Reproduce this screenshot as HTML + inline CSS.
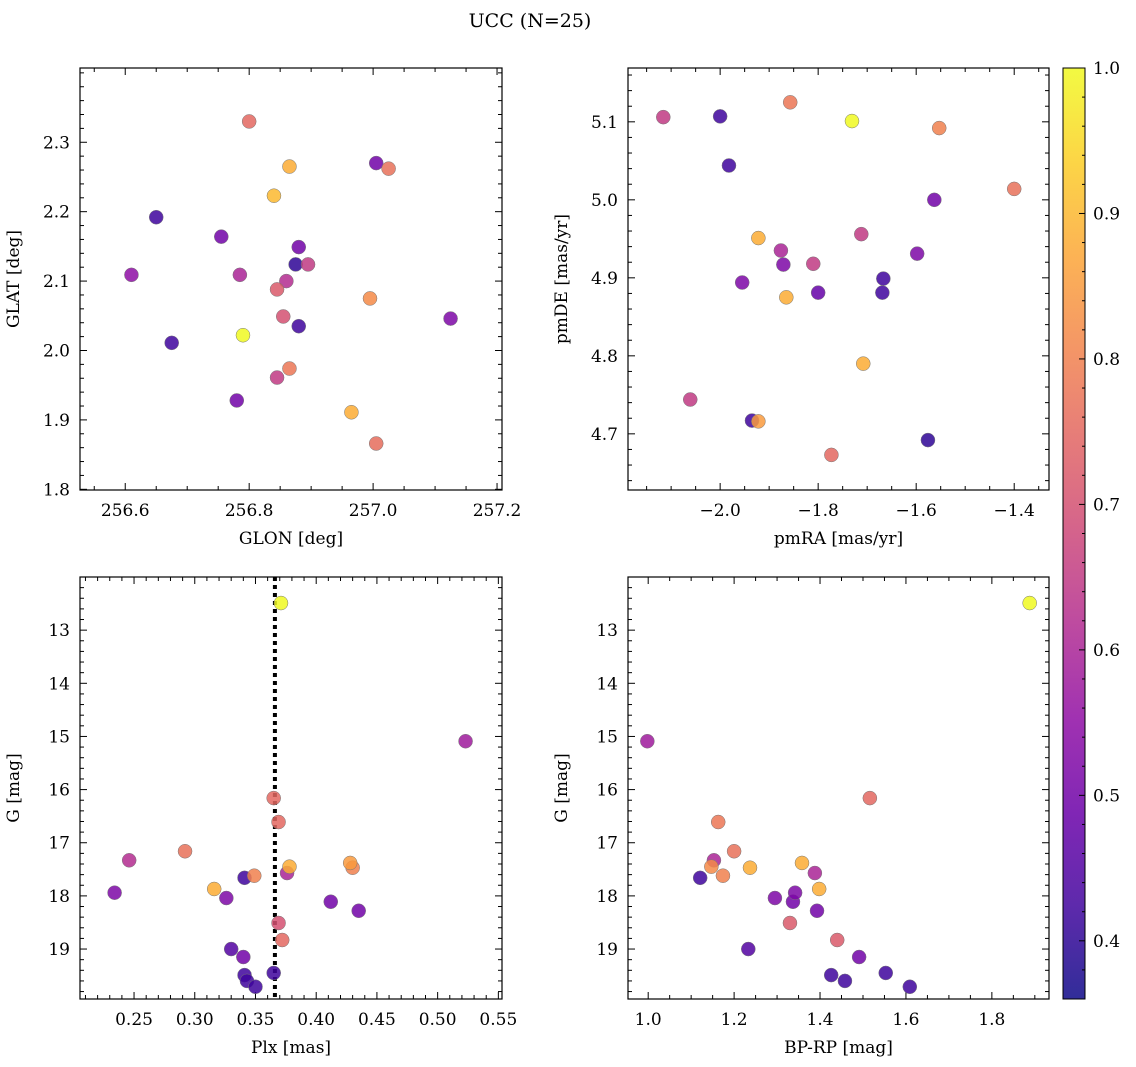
<!DOCTYPE html>
<html><head><meta charset="utf-8"><style>
html,body{margin:0;padding:0;background:#fff;}
svg{display:block;font-family:"DejaVu Serif","Liberation Serif",serif;}
</style></head><body>
<svg id="fig" width="1136" height="1067" viewBox="0 0 1136 1067">
<text x="530" y="27" font-size="19" text-anchor="middle">UCC (N=25)</text>
</svg>
<script>
// ---- data ----
const glon=[256.80,256.865,257.005,257.025,256.84,256.65,256.755,256.88,256.875,256.895,256.61,256.785,256.86,256.845,256.995,256.855,257.125,256.88,256.675,256.79,256.865,256.845,256.78,256.965,257.005];
const glat=[2.33,2.265,2.27,2.262,2.223,2.192,2.164,2.149,2.124,2.124,2.109,2.109,2.1,2.088,2.075,2.049,2.046,2.035,2.011,2.022,1.974,1.961,1.928,1.911,1.866];
const probTL=[0.75,0.88,0.5,0.77,0.9,0.42,0.5,0.5,0.4,0.65,0.55,0.6,0.62,0.72,0.82,0.7,0.52,0.42,0.42,1.0,0.78,0.65,0.5,0.88,0.76];
const pmra=[-2.116,-2.0,-1.982,-1.857,-1.731,-1.553,-1.4,-1.563,-1.922,-1.712,-1.876,-1.871,-1.81,-1.598,-1.667,-1.955,-1.865,-1.8,-1.669,-1.708,-2.061,-1.935,-1.922,-1.576,-1.773];
const pmde=[5.106,5.107,5.044,5.125,5.101,5.092,5.014,5.0,4.951,4.956,4.935,4.917,4.918,4.931,4.899,4.894,4.875,4.881,4.881,4.79,4.744,4.717,4.716,4.692,4.673];
const probTR=[0.65,0.42,0.42,0.78,1.0,0.8,0.77,0.5,0.88,0.65,0.6,0.52,0.65,0.52,0.42,0.52,0.88,0.48,0.42,0.88,0.65,0.42,0.85,0.4,0.75];
const plx=[0.371,0.523,0.365,0.369,0.246,0.292,0.428,0.430,0.378,0.376,0.341,0.349,0.316,0.234,0.326,0.412,0.435,0.369,0.372,0.330,0.340,0.341,0.343,0.365,0.350];
const gmag=[12.49,15.09,16.16,16.61,17.33,17.16,17.38,17.47,17.45,17.57,17.66,17.62,17.87,17.94,18.04,18.11,18.28,18.51,18.83,19.0,19.15,19.49,19.60,19.45,19.71];
const probBL=[1.0,0.58,0.75,0.75,0.62,0.77,0.85,0.8,0.88,0.6,0.42,0.8,0.88,0.52,0.52,0.5,0.5,0.7,0.75,0.45,0.5,0.42,0.42,0.42,0.42];
const bprp=[1.888,0.998,1.516,1.163,1.153,1.2,1.358,1.237,1.388,1.147,1.121,1.174,1.398,1.342,1.295,1.337,1.393,1.33,1.44,1.233,1.491,1.426,1.458,1.553,1.609];
const gmag2=[12.49,15.09,16.16,16.61,17.33,17.16,17.38,17.47,17.57,17.45,17.66,17.62,17.87,17.94,18.04,18.11,18.28,18.51,18.83,19.0,19.15,19.49,19.60,19.45,19.71];
const probBR=[1.0,0.58,0.75,0.78,0.6,0.77,0.88,0.88,0.6,0.82,0.42,0.8,0.88,0.52,0.52,0.5,0.5,0.72,0.72,0.45,0.5,0.42,0.42,0.42,0.42];
const plxMedian=0.366;
const cbTicks=[0.4,0.5,0.6,0.7,0.8,0.9,1.0];
const VMIN=0.36,VMAX=1.0;

const NS="http://www.w3.org/2000/svg";
const svg=document.getElementById('fig');
function mk(tag,attrs,parent){const e=document.createElementNS(NS,tag);for(const k in attrs)e.setAttribute(k,attrs[k]);(parent||svg).appendChild(e);return e;}
const stops=[[13,8,135],[65,4,157],[106,0,168],[143,13,164],[177,42,144],[204,71,120],[225,100,98],[242,132,75],[252,166,54],[252,206,37],[240,249,33]];
function plasma(t){t=Math.max(0,Math.min(1,t));const f=t*10,i=Math.min(9,Math.floor(f)),r=f-i;const a=stops[i],b=stops[i+1];return 'rgb('+a.map((v,k)=>Math.round(v+(b[k]-v)*r)).join(',')+')';}
function cmap(v){return plasma((v-VMIN)/(VMAX-VMIN));}

function panel(name,box,xr,yr,xt,yt,xminor,yminor,xfmt,yfmt,xlabel,ylabel,invertY){
  const [L,T,R,B]=box;
  const sx=v=>L+(v-xr[0])/(xr[1]-xr[0])*(R-L);
  const sy=invertY?(v=>T+(v-yr[0])/(yr[1]-yr[0])*(B-T)):(v=>B-(v-yr[0])/(yr[1]-yr[0])*(B-T));
  const g=mk('g',{});
  
  
  const ticks=mk('g',{stroke:'#000','stroke-width':1},g);
  function eachTick(arr,step,range,cb){for(const v of arr)cb(v,7);if(step){const s=Math.ceil(range[0]/step-1e-6);for(let k=s;k*step<=range[1]+1e-9;k++){const v=k*step;if(!arr.some(a=>Math.abs(a-v)<step/3))cb(v,4);}}}
  eachTick(xt,xminor,xr,(v,l)=>{const x=sx(v);if(x<L-0.5||x>R+0.5)return;mk('line',{x1:x,x2:x,y1:B,y2:B-l},ticks);mk('line',{x1:x,x2:x,y1:T,y2:T+l},ticks);});
  eachTick(yt,yminor,[Math.min(...yr),Math.max(...yr)],(v,l)=>{const y=sy(v);if(y<T-0.5||y>B+0.5)return;mk('line',{x1:L,x2:L+l,y1:y,y2:y},ticks);mk('line',{x1:R,x2:R-l,y1:y,y2:y},ticks);});
  const xl=mk('g',{'font-size':17,'text-anchor':'middle'},g);
  
  xt.forEach(v=>{const t=mk('text',{x:sx(v),y:B+26},xl);t.textContent=xfmt(v);});
  const yl=mk('g',{'font-size':17,'text-anchor':'end'},g);
  
  yt.forEach(v=>{const t=mk('text',{x:L-10,y:sy(v)+6},yl);t.textContent=yfmt(v);});
  const xa=mk('text',{x:(L+R)/2,y:B+54,'font-size':17,'text-anchor':'middle'},g);
  xa.textContent=xlabel;
  const ya=mk('text',{x:0,y:0,'font-size':17,'text-anchor':'middle',transform:`translate(${L-61},${(T+B)/2}) rotate(-90)`},g);
  ya.textContent=ylabel;
  return {g,sx,sy,box};
}
function frame(p){const [L,T,R,B]=p.box;const r=mk('rect',{x:L,y:T,width:R-L,height:B-T,fill:'none',stroke:'#000','stroke-width':1.2},p.g);}
function scatter(p,xs,ys,cs,name){
  const gg=mk('g',{},p.g);
  const idx=xs.map((_,i)=>i).sort((a,b)=>cs[a]-cs[b]);
  idx.forEach(i=>{const c=mk('circle',{cx:p.sx(xs[i]),cy:p.sy(ys[i]),r:7,fill:cmap(cs[i]),'fill-opacity':0.85,stroke:'#777','stroke-width':0.5},gg);
    
    });
}
const f1=v=>v.toFixed(1),f2=v=>v.toFixed(2),fm=v=>(v<0?'\u2212':'')+Math.abs(v).toFixed(1),fi=v=>String(v);

const p1=panel('glon-glat',[80,68,502,490],[256.527,257.208],[1.799,2.407],[256.6,256.8,257.0,257.2],[1.8,1.9,2.0,2.1,2.2,2.3],0.05,0.02,f1,f1,'GLON [deg]','GLAT [deg]',false);
scatter(p1,glon,glat,probTL,'glon-glat-points');frame(p1);

const p2=panel('proper-motion',[628,68,1049,490],[-2.188,-1.329],[4.628,5.169],[-2.0,-1.8,-1.6,-1.4],[4.7,4.8,4.9,5.0,5.1],0.05,0.02,fm,f1,'pmRA [mas/yr]','pmDE [mas/yr]',false);
scatter(p2,pmra,pmde,probTR,'proper-motion-points');frame(p2);

const p3=panel('plx-g',[80,577,502,999],[0.2055,0.553],[12.0,19.94],[0.25,0.30,0.35,0.40,0.45,0.50,0.55],[13,14,15,16,17,18,19],0.01,0.2,f2,fi,'Plx [mas]','G [mag]',true);
const ml=mk('line',{x1:p3.sx(plxMedian),x2:p3.sx(plxMedian),y1:577,y2:999,stroke:'#000','stroke-width':4,'stroke-dasharray':'4 4'},p3.g);

scatter(p3,plx,gmag,probBL,'plx-g-points');frame(p3);

const p4=panel('cmd',[628,577,1049,999],[0.953,1.933],[12.0,19.94],[1.0,1.2,1.4,1.6,1.8],[13,14,15,16,17,18,19],0.05,0.2,f1,fi,'BP-RP [mag]','G [mag]',true);
scatter(p4,bprp,gmag2,probBR,'cmd-points');frame(p4);

// colorbar
const cb=mk('g',{});
const defs=mk('defs',{},cb);const lg=mk('linearGradient',{id:'cbg',x1:0,y1:1,x2:0,y2:0},defs);
for(let i=0;i<=20;i++){mk('stop',{offset:i/20,'stop-color':plasma(i/20),'stop-opacity':0.85},lg);}
const CT=68,CB=999,CL=1063,CR=1085;
mk('rect',{x:CL,y:CT,width:CR-CL,height:CB-CT,fill:'url(#cbg)',stroke:'#000','stroke-width':1},cb);
const cy=v=>CB-(v-VMIN)/(VMAX-VMIN)*(CB-CT);
for(let k=18;k<=50;k++){const v=k*0.02;if(v<VMIN-1e-9)continue;const y=cy(v);const major=cbTicks.some(t=>Math.abs(t-v)<1e-6);mk('line',{x1:CR,x2:CR-(major?6:3),y1:y,y2:y,stroke:'#000'},cb);}
cbTicks.forEach(v=>{const t=mk('text',{x:CR+8,y:cy(v)+6,'font-size':17},cb);t.textContent=v.toFixed(1);});
</script>
</body></html>
